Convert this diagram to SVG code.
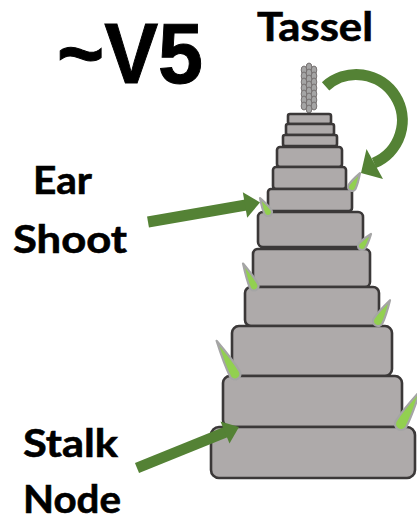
<svg xmlns="http://www.w3.org/2000/svg" width="417" height="520" viewBox="0 0 417 520">
  <style>
    .seg { fill: #aeaaaa; stroke: #3b3838; stroke-width: 2.6; }
    .leaf { fill: #92d050; stroke: #a5a5a5; stroke-width: 2.2; stroke-linejoin: round; }
    .tas { fill: #a5a5a5; stroke: #767171; stroke-width: 1; }
    .shaft { fill: none; stroke: #548235; stroke-width: 11; }
    .head { fill: #548235; }
    .lbl { font-family: Lato, "Liberation Sans", sans-serif; font-weight: bold; fill: #000000; stroke: #000000; stroke-width: 0.6; }
    .ttl { font-family: "Liberation Sans", Arial, sans-serif; font-weight: bold; fill: #000000; stroke: #000000; stroke-width: 1; }
  </style>
  <rect width="417" height="520" fill="#ffffff"/>

  <!-- Title and labels -->
  <g id="title">
    <text class="ttl" x="57" y="83" font-size="86" textLength="146" lengthAdjust="spacingAndGlyphs">~V5</text>
  </g>
  <g id="label-tassel">
    <text class="lbl" x="257" y="41" font-size="40" textLength="116" lengthAdjust="spacingAndGlyphs">Tassel</text>
  </g>
  <g id="label-ear-shoot">
    <text class="lbl" x="33" y="194" font-size="39" textLength="59" lengthAdjust="spacingAndGlyphs">Ear</text>
    <text class="lbl" x="13" y="253" font-size="39" textLength="114" lengthAdjust="spacingAndGlyphs">Shoot</text>
  </g>
  <g id="label-stalk-node">
    <text class="lbl" x="23" y="457" font-size="39" textLength="95" lengthAdjust="spacingAndGlyphs">Stalk</text>
    <text class="lbl" x="23" y="513" font-size="39" textLength="98" lengthAdjust="spacingAndGlyphs">Node</text>
  </g>

  <!-- Tassel: three braided columns -->
  <g id="tassel">
    <g>
      <ellipse class="tas" cx="304" cy="70" rx="2.8" ry="4"/>
      <ellipse class="tas" cx="304" cy="76" rx="2.8" ry="4"/>
      <ellipse class="tas" cx="304" cy="82" rx="2.8" ry="4"/>
      <ellipse class="tas" cx="304" cy="88" rx="2.8" ry="4"/>
      <ellipse class="tas" cx="304" cy="94" rx="2.8" ry="4"/>
      <ellipse class="tas" cx="304" cy="100" rx="2.8" ry="4"/>
      <ellipse class="tas" cx="304" cy="106" rx="2.8" ry="4"/>
      <ellipse class="tas" cx="314" cy="70" rx="2.8" ry="4"/>
      <ellipse class="tas" cx="314" cy="76" rx="2.8" ry="4"/>
      <ellipse class="tas" cx="314" cy="82" rx="2.8" ry="4"/>
      <ellipse class="tas" cx="314" cy="88" rx="2.8" ry="4"/>
      <ellipse class="tas" cx="314" cy="94" rx="2.8" ry="4"/>
      <ellipse class="tas" cx="314" cy="100" rx="2.8" ry="4"/>
      <ellipse class="tas" cx="314" cy="106" rx="2.8" ry="4"/>
      <ellipse class="tas" cx="309" cy="67" rx="2.8" ry="4"/>
      <ellipse class="tas" cx="309" cy="73" rx="2.8" ry="4"/>
      <ellipse class="tas" cx="309" cy="79" rx="2.8" ry="4"/>
      <ellipse class="tas" cx="309" cy="85" rx="2.8" ry="4"/>
      <ellipse class="tas" cx="309" cy="91" rx="2.8" ry="4"/>
      <ellipse class="tas" cx="309" cy="97" rx="2.8" ry="4"/>
      <ellipse class="tas" cx="309" cy="103" rx="2.8" ry="4"/>
      <ellipse class="tas" cx="309" cy="109" rx="2.8" ry="4"/>
    </g>
  </g>

  <!-- Stalk segments, top to bottom -->
  <g id="stalk">
    <rect class="seg" x="288" y="114" width="43" height="10" rx="2"/>
    <rect class="seg" x="286" y="124" width="48" height="11" rx="2"/>
    <rect class="seg" x="283" y="135" width="54" height="11" rx="2"/>
    <rect class="seg" x="277" y="147" width="65" height="20" rx="3"/>
    <rect class="seg" x="273" y="167" width="73" height="22" rx="3"/>
    <rect class="seg" x="268" y="189" width="84" height="22" rx="3"/>
    <rect class="seg" x="258" y="212" width="105" height="35" rx="5"/>
    <rect class="seg" x="253" y="249" width="117" height="38" rx="5"/>
    <rect class="seg" x="245" y="287" width="134" height="39" rx="6"/>
    <rect class="seg" x="232" y="326" width="160" height="50" rx="7"/>
    <rect class="seg" x="223" y="376" width="179" height="51" rx="7"/>
    <rect class="seg" x="211" y="427" width="204" height="51" rx="8"/>
  </g>

  <!-- Leaf shoots at the nodes -->
  <g id="leaves">
    <path class="leaf" transform="translate(352,187) rotate(30)" d="M0,-16 Q3.6,-5.6 4,0 A4,4 0 0 1 -4,0 Q-3.6,-5.6 0,-16 Z"/>
    <path class="leaf" transform="translate(268,212) rotate(-30)" d="M0,-16 Q3.6,-5.6 4,0 A4,4 0 0 1 -4,0 Q-3.6,-5.6 0,-16 Z"/>
    <path class="leaf" transform="translate(362,246) rotate(37)" d="M0,-15 Q3.6,-5.2 4,0 A4,4 0 0 1 -4,0 Q-3.6,-5.2 0,-15 Z"/>
    <path class="leaf" transform="translate(254,286) rotate(-26)" d="M0,-25 Q4,-8.7 4.5,0 A4.5,4.5 0 0 1 -4.5,0 Q-4,-8.7 0,-25 Z"/>
    <path class="leaf" transform="translate(378,321) rotate(30)" d="M0,-24 Q4.5,-8.4 5,0 A5,5 0 0 1 -5,0 Q-4.5,-8.4 0,-24 Z"/>
    <path class="leaf" transform="translate(235,374) rotate(-29)" d="M0,-38 Q5,-13 5.5,0 A5.5,5.5 0 0 1 -5.5,0 Q-5,-13 0,-38 Z"/>
    <path class="leaf" transform="translate(401,424) rotate(30)" d="M0,-38 Q5.4,-13 6,0 A6,6 0 0 1 -6,0 Q-5.4,-13 0,-38 Z"/>
  </g>

  <!-- Connectors -->
  <g id="connectors">
    <!-- curved arrow from tassel down to the upper nodes -->
    <path class="shaft" stroke-width="12.5" d="M325.6,86.3 A46,46 0 1 1 374,163"/>
    <polygon class="head" points="366.5,149 383,179 361,173"/>
    <!-- ear shoot pointer -->
    <path class="shaft" stroke-width="10.5" d="M148,222 L246,205"/>
    <polygon class="head" points="242.8,192.2 260,202.4 247.2,217.8"/>
    <!-- stalk node pointer -->
    <path class="shaft" stroke-width="10.5" d="M137,468 L226,432"/>
    <polygon class="head" points="220.5,421.4 239,426.9 229.5,443.6"/>
  </g>
</svg>
